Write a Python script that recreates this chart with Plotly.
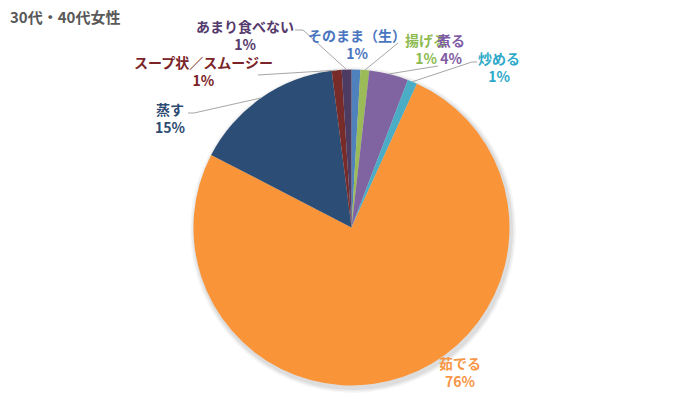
import math
import plotly.graph_objects as go

# ---- data ----
names = ["そのまま（生）", "揚げる", "煮る", "炒める", "茹でる", "蒸す",
         "スープ状／スムージー", "あまり食べない"]
values = [0.9, 0.9, 4.0, 1.0, 75.8, 15.4, 1.0, 1.0]
title_text = "30代・40代女性"

# ---- styles / layout ----
colors = ["#4F81BD", "#9BBB59", "#8064A2", "#4BACC6", "#F99439",
          "#2C4D75", "#772C2A", "#4D3B62"]
text_colors = ["#4A76C0", "#8DBB50", "#7F5BA6", "#2EA9C8", "#F79646",
               "#2C4A72", "#7B2428", "#553A6C"]
W, H = 700, 420
CX, CY, R = 351.5, 227.5, 158.0
# label block centers (px)
label_pos = [(357, 44), (426, 49), (451, 49), (499, 67), (460, 372),
             (170.5, 118), (203.5, 71), (245, 35)]
# leader-line start points near labels (px); None = no line
leader_pts = [None, [(398, 43)], [(438, 66)], [(477, 62), (472, 62)], None,
              [(188, 113), (194, 113)], [(258, 75)], [(295, 30), (303, 30)]]


def px(x, y):
    return x / W, 1 - y / H


def dom(cx, cy, r):
    return dict(x=[(cx - r) / W, (cx + r) / W], y=[1 - (cy + r) / H, 1 - (cy - r) / H])


fig = go.Figure()

# soft shadow behind the pie
for dr, a in [(5, 0.035), (3.5, 0.045), (2, 0.06)]:
    fig.add_trace(go.Pie(values=[1], labels=["s"], domain=dom(CX + 1.5, CY + 2.5, R + dr),
                         marker=dict(colors=[f"rgba(0,0,0,{a})"]), textinfo="none",
                         hoverinfo="skip", showlegend=False, sort=False))

fig.add_trace(go.Pie(
    labels=names, values=values, sort=False, direction="clockwise", rotation=0,
    marker=dict(colors=colors, line=dict(width=0)),
    textinfo="none", hoverinfo="label+percent", showlegend=False,
    domain=dom(CX, CY, R),
))

total = sum(values)
annotations = [dict(text=f"<b>{title_text}</b>", x=8 / W, y=1 - 17 / H, xref="paper", yref="paper",
                    xanchor="left", yanchor="middle", showarrow=False,
                    font=dict(family="Noto Sans CJK JP", size=15, color="#595959"))]
shapes = []
cum = 0.0
for i, (n, v) in enumerate(zip(names, values)):
    mid = (cum + v / 2) / total * 2 * math.pi
    cum += v
    ex, ey = CX + R * math.sin(mid), CY - R * math.cos(mid)
    pct = round(v / total * 100)
    lx, ly = label_pos[i]
    x, y = px(lx, ly)
    annotations.append(dict(text=f"<b>{n}<br>{pct}%</b>", x=x, y=y, xref="paper", yref="paper",
                            xanchor="center", yanchor="middle", showarrow=False, align="center",
                            font=dict(family="Noto Sans CJK JP", size=14, color=text_colors[i])))
    if leader_pts[i]:
        pts = leader_pts[i] + [(ex, ey)]
        path = "M " + " L ".join(f"{px(a, b)[0]:.5f},{px(a, b)[1]:.5f}" for a, b in pts)
        shapes.append(dict(type="path", path=path, xref="paper", yref="paper",
                           line=dict(color="#A6A6A6", width=1)))

fig.update_layout(width=W, height=H, margin=dict(l=0, r=0, t=0, b=0),
                  paper_bgcolor="white", plot_bgcolor="white",
                  annotations=annotations, shapes=shapes)
fig.write_html("out.html", config={"displayModeBar": False},
               post_script="document.body.style.margin='0';")
